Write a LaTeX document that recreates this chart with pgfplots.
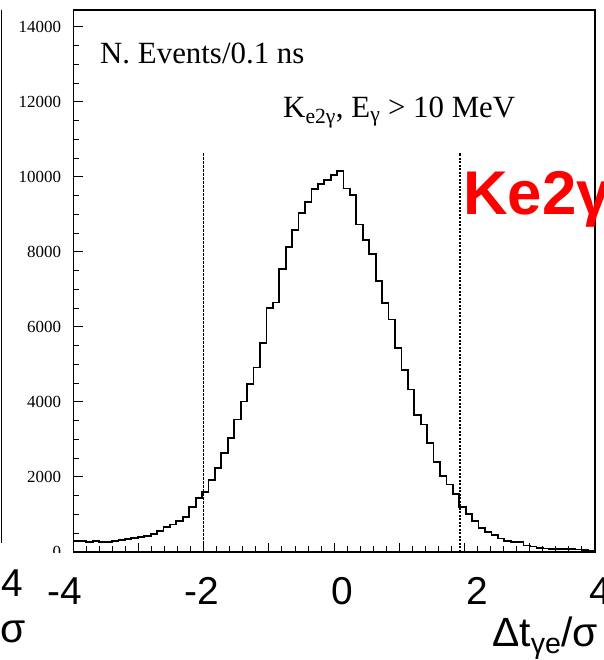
\documentclass[border=0pt]{standalone}
\usepackage{fontspec}
\setmainfont{Liberation Serif}
\setsansfont{Liberation Sans}
\usepackage{pgfplots}
\usepackage{pgfplotstable}
\pgfplotsset{compat=1.18}
\pgfplotstableread{
x y
-4.000 290
-3.901 290
-3.803 260
-3.704 285
-3.605 260
-3.507 260
-3.408 290
-3.309 320
-3.210 345
-3.112 365
-3.013 410
-2.914 430
-2.816 480
-2.717 550
-2.618 670
-2.520 735
-2.421 835
-2.322 940
-2.224 1190
-2.125 1435
-2.026 1600
-1.928 1910
-1.829 2250
-1.730 2640
-1.631 3030
-1.533 3530
-1.434 4010
-1.335 4480
-1.237 4920
-1.138 5580
-1.039 6500
-0.941 6650
-0.842 7550
-0.743 8130
-0.645 8580
-0.546 9030
-0.447 9340
-0.348 9670
-0.250 9820
-0.151 9920
-0.052 10050
0.046 10150
0.145 9690
0.244 9520
0.342 8730
0.441 8310
0.540 7950
0.638 7220
0.737 6630
0.836 6200
0.935 5430
1.033 4850
1.132 4330
1.231 3650
1.329 3400
1.428 2910
1.527 2400
1.625 2020
1.724 1800
1.823 1550
1.921 1195
2.020 1020
2.119 835
2.217 650
2.316 540
2.415 450
2.514 360
2.612 290
2.711 262
2.810 262
2.908 175
3.007 147
3.106 112
3.204 93
3.303 85
3.402 75
3.500 75
3.599 75
3.698 67
3.797 50
3.895 40
4.000 40
}\histdata
\begin{document}
\begin{tikzpicture}[x=1bp,y=1bp]
\path[use as bounding box] (0,0) rectangle (604,660);
\begin{axis}[
  at={(73.5bp,108bp)}, anchor=south west,
  scale only axis, width=521.2bp, height=542bp,
  xmin=-4, xmax=4, ymin=0, ymax=14450,
  xtick={-4,-3,...,4}, minor x tick num=4, xticklabels={},
  ytick={0,2000,...,14000}, minor y tick num=3,
  scaled y ticks=false,
  xtick pos=bottom, ytick pos=left,
  tick align=inside,
  major tick length=9bp, minor tick length=5.5bp,
  axis line style={line width=1.8bp},
  every tick/.style={black, line width=1bp},
  yticklabel style={font=\fontsize{17}{17}\selectfont, xshift=-9bp},
  /pgf/number format/assume math mode=true,
  /pgf/number format/set thousands separator={},
  /pgf/number format/fixed,
  clip=false,
]
\addplot[const plot mark left, black, line width=1.8bp] table[x=x,y=y] {\histdata};
\addplot[black, line width=1.2bp, dash pattern=on 2.5bp off 1.5bp] coordinates {(-2.01,0) (-2.01,10640)};
\addplot[black, line width=1.8bp, dash pattern=on 2bp off 1.5bp] coordinates {(1.93,0) (1.93,10640)};
\end{axis}
% hide lower part of the 0 label as in the reference
\fill[white] (0,0) rectangle (71,106.5);
% neighbour panel remnants
\draw[line width=1.8bp] (1.5,650) -- (1.5,117);
\node[anchor=base west, inner sep=0, font=\sffamily\fontsize{39}{39}\selectfont] at (1,63) {4};
\node[anchor=base east, inner sep=0, font=\sffamily\fontsize{41}{41}\selectfont] at (26,17) {σ};
% texts
\node[anchor=base west, inner sep=0, font=\fontsize{31}{31}\selectfont] at (100,596.7) {N. Events/0.1 ns};
\node[anchor=base west, inner sep=0, font=\fontsize{31}{31}\selectfont] at (283,542) {K\textsubscript{e2γ}, E\textsubscript{γ} > 10 MeV};
\node[anchor=base west, inner sep=0, text=red, font=\sffamily\bfseries\fontsize{62}{62}\selectfont] at (463,445) {Ke2γ};
% big x labels
\node[anchor=base, inner sep=0, font=\sffamily\fontsize{39}{39}\selectfont] at (65,55) {-4};
\node[anchor=base, inner sep=0, font=\sffamily\fontsize{39}{39}\selectfont] at (202,55) {-2};
\node[anchor=base, inner sep=0, font=\sffamily\fontsize{39}{39}\selectfont] at (342,55) {0};
\node[anchor=base, inner sep=0, font=\sffamily\fontsize{39}{39}\selectfont] at (477,55) {2};
\node[anchor=base, inner sep=0, font=\sffamily\fontsize{39}{39}\selectfont] at (600,55) {4};
\node[anchor=base west, inner sep=0, font=\sffamily\fontsize{41}{41}\selectfont] at (492,13) {Δt\textsubscript{γe}/σ};
\end{tikzpicture}
\end{document}
